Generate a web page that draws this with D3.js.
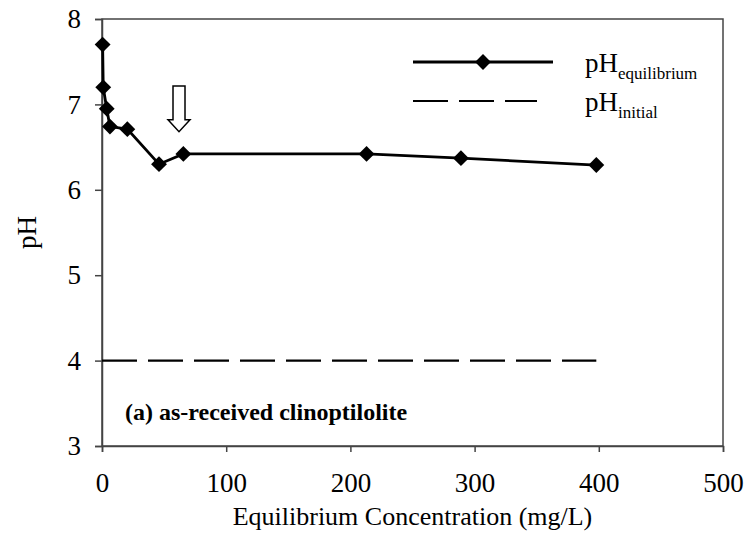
<!DOCTYPE html>
<html><head><meta charset="utf-8">
<script src="https://cdn.jsdelivr.net/npm/d3@7"></script>
<style>body{margin:0;background:#fff} text{font-family:"Liberation Serif","Times New Roman",serif}</style>
</head><body>
<svg id="c" width="751" height="546"></svg>
<script>
const conc = [0.5, 1, 3.8, 6.4, 20.4, 45.9, 65.5, 213, 289, 398];
const pHeq = [7.70, 7.20, 6.95, 6.74, 6.71, 6.30, 6.42, 6.42, 6.37, 6.29];
const initX = [0, 398];
const initY = [4, 4];
const xTicks = [0, 100, 200, 300, 400, 500];
const yTicks = [3, 4, 5, 6, 7, 8];
const arrowAt = {x: 62, top: 7.215, headStart: 6.82, bottom: 6.68};

const svg = d3.select("#c");
const font = '"Liberation Serif","Times New Roman",serif';
const L = 102, R = 723, T = 19, B = 446;
const x = d3.scaleLinear().domain([0, 500]).range([L, R]);
const y = d3.scaleLinear().domain([3, 8]).range([B, T]);
const axisCol = "#444";

svg.append("rect").attr("x", L).attr("y", T).attr("width", R - L).attr("height", B - T)
  .attr("fill", "none").attr("stroke", axisCol).attr("stroke-width", 1.5);

const xa = svg.append("g").attr("transform", `translate(0,${B})`)
  .call(d3.axisBottom(x).tickValues(xTicks).tickFormat(d3.format("d")).tickSize(6).tickPadding(21));
const ya = svg.append("g").attr("transform", `translate(${L},0)`)
  .call(d3.axisLeft(y).tickValues(yTicks).tickFormat(d3.format("d")).tickSize(7).tickPadding(14));
[xa, ya].forEach(a => {
  a.attr("font-family", null);
  a.select(".domain").attr("stroke", axisCol).attr("stroke-width", 1.5);
  a.selectAll(".tick line").attr("stroke", axisCol).attr("stroke-width", 1.5);
  a.selectAll("text").style("font-family", font).attr("font-size", 27).attr("fill", "#000");
});

svg.append("text").attr("x", (L + R) / 2).attr("y", 525).attr("text-anchor", "middle")
  .style("font-family", font).attr("font-size", 26).text("Equilibrium Concentration (mg/L)");
svg.append("text").attr("transform", `translate(36,${(T + B) / 2}) rotate(-90)`)
  .attr("text-anchor", "middle").style("font-family", font).attr("font-size", 27).text("pH");

svg.append("path").datum(initX.map((d, i) => [d, initY[i]]))
  .attr("d", d3.line().x(d => x(d[0])).y(d => y(d[1])))
  .attr("fill", "none").attr("stroke", "#000").attr("stroke-width", 2.2)
  .attr("stroke-dasharray", "35,11");

const pts = conc.map((d, i) => [d, pHeq[i]]);
svg.append("path").datum(pts)
  .attr("d", d3.line().x(d => x(d[0])).y(d => y(d[1])))
  .attr("fill", "none").attr("stroke", "#000").attr("stroke-width", 2.8);
const sym = d3.symbol().type(d3.symbolDiamond2).size(160);
svg.selectAll(".pt").data(pts).join("path")
  .attr("transform", d => `translate(${x(d[0])},${y(d[1])})`)
  .attr("d", sym).attr("fill", "#000");

{
  const cx = x(arrowAt.x), t = y(arrowAt.top), hs = y(arrowAt.headStart), b = y(arrowAt.bottom);
  const sw = 6, hw = 11;
  const p = d3.path();
  p.moveTo(cx - sw, t); p.lineTo(cx + sw, t); p.lineTo(cx + sw, hs); p.lineTo(cx + hw, hs);
  p.lineTo(cx, b); p.lineTo(cx - hw, hs); p.lineTo(cx - sw, hs); p.closePath();
  svg.append("path").attr("d", p.toString()).attr("fill", "#fff").attr("stroke", "#000").attr("stroke-width", 1.5);
}

svg.append("line").attr("x1", 413).attr("x2", 553).attr("y1", 62).attr("y2", 62)
  .attr("stroke", "#000").attr("stroke-width", 2.8);
svg.append("path").attr("transform", "translate(483,62)").attr("d", sym).attr("fill", "#000");
svg.append("line").attr("x1", 413).attr("x2", 537).attr("y1", 101).attr("y2", 101)
  .attr("stroke", "#000").attr("stroke-width", 2.2).attr("stroke-dasharray", "35,11");
const leg = [["equilibrium", 72], ["initial", 111]];
leg.forEach(([sub, yy]) => {
  const t = svg.append("text").attr("x", 585).attr("y", yy).style("font-family", font).attr("font-size", 27);
  t.append("tspan").text("pH");
  t.append("tspan").attr("font-size", 17).attr("dy", 7).text(sub);
});

svg.append("text").attr("x", 125).attr("y", 420).style("font-family", font)
  .attr("font-weight", "bold").attr("font-size", 24).text("(a) as-received clinoptilolite");
</script>
</body></html>
